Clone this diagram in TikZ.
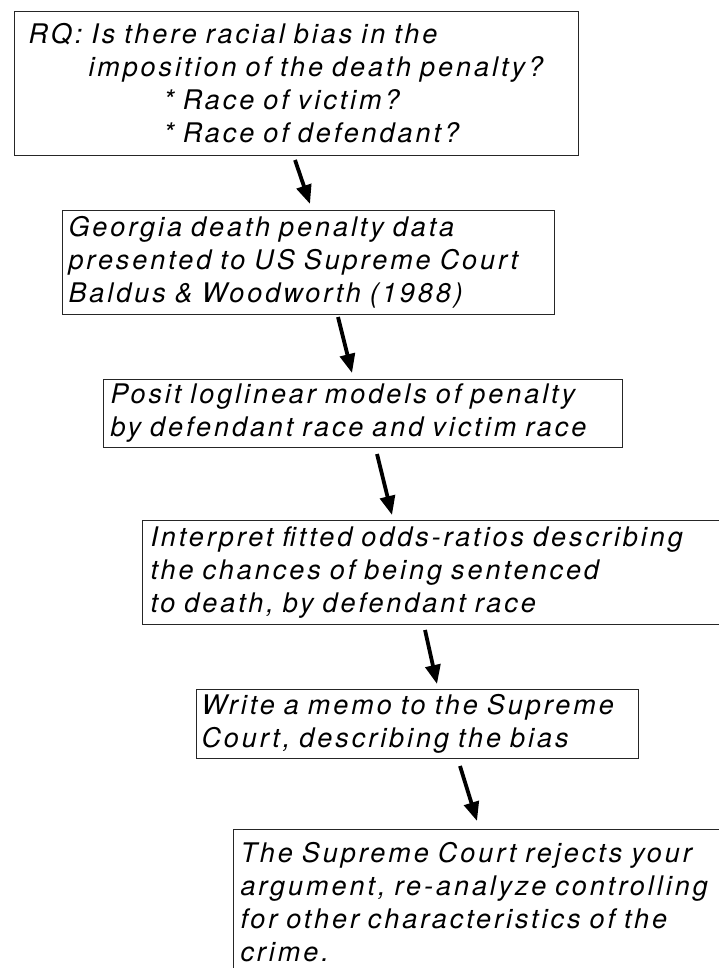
\documentclass[tikz,border=0pt]{standalone}
\usepackage{fontspec}
\setmainfont{TeX Gyre Heros}[LetterSpace=11, WordSpace=2.6]
\usetikzlibrary{arrows.meta}

\begin{document}
\begin{tikzpicture}[
  x=1pt, y=-1pt,
  font=\fontsize{27}{33}\selectfont\itshape,
  stage/.style={draw=black!85, line width=1pt, anchor=north west, align=left, inner ysep=0pt},
  flow/.style={-{Triangle[length=19pt,width=15pt]}, line width=3.8pt}
]
  \useasboundingbox (0,0) rectangle (719,968);

  \node[stage, text width=536pt, minimum height=144pt, inner xsep=14pt] (rq) at (14,11)
    {RQ: Is there racial bias in the\\
     \hspace*{60pt}imposition of the death penalty?\\
     \hspace*{135pt}* Race of victim?\\
     \hspace*{135pt}* Race of defendant?};
  \node[stage, text width=480pt, minimum height=104pt, inner xsep=6pt] (data) at (62,210)
    {Georgia death penalty data\\
     presented to US Supreme Court\\
     Baldus \& Woodworth (1988)};
  \node[stage, text width=505pt, minimum height=68pt, inner xsep=7pt] (posit) at (103,379)
    {Posit loglinear models of penalty\\
     by defendant race and victim race};
  \node[stage, text width=584pt, minimum height=104pt, inner xsep=8pt] (interp) at (142,520)
    {Interpret fitted odds-ratios describing\\
     the chances of being sentenced\\
     to death, by defendant race};
  \node[stage, text width=432pt, minimum height=69pt, inner xsep=5pt] (memo) at (196,689)
    {Write a memo to the Supreme\\
     Court, describing the bias};
  \node[stage, text width=586pt, minimum height=146pt, inner xsep=7pt] (reject) at (233,829)
    {The Supreme Court rejects your\\
     argument, re-analyze controlling\\
     for other characteristics of the\\
     crime.};

  \draw[flow] ([xshift=281pt,yshift=-4pt]rq.south west) -- ([xshift=248pt,yshift=6pt]data.north west);
  \draw[flow] ([xshift=276pt,yshift=-2pt]data.south west) -- ([xshift=249pt,yshift=6pt]posit.north west);
  \draw[flow] ([xshift=274pt,yshift=-6pt]posit.south west) -- ([xshift=250pt,yshift=5pt]interp.north west);
  \draw[flow] ([xshift=283pt,yshift=-5pt]interp.south west) -- ([xshift=241pt,yshift=5pt]memo.north west);
  \draw[flow] ([xshift=264pt,yshift=-7pt]memo.south west) -- ([xshift=244pt,yshift=8pt]reject.north west);
\end{tikzpicture}
\end{document}
